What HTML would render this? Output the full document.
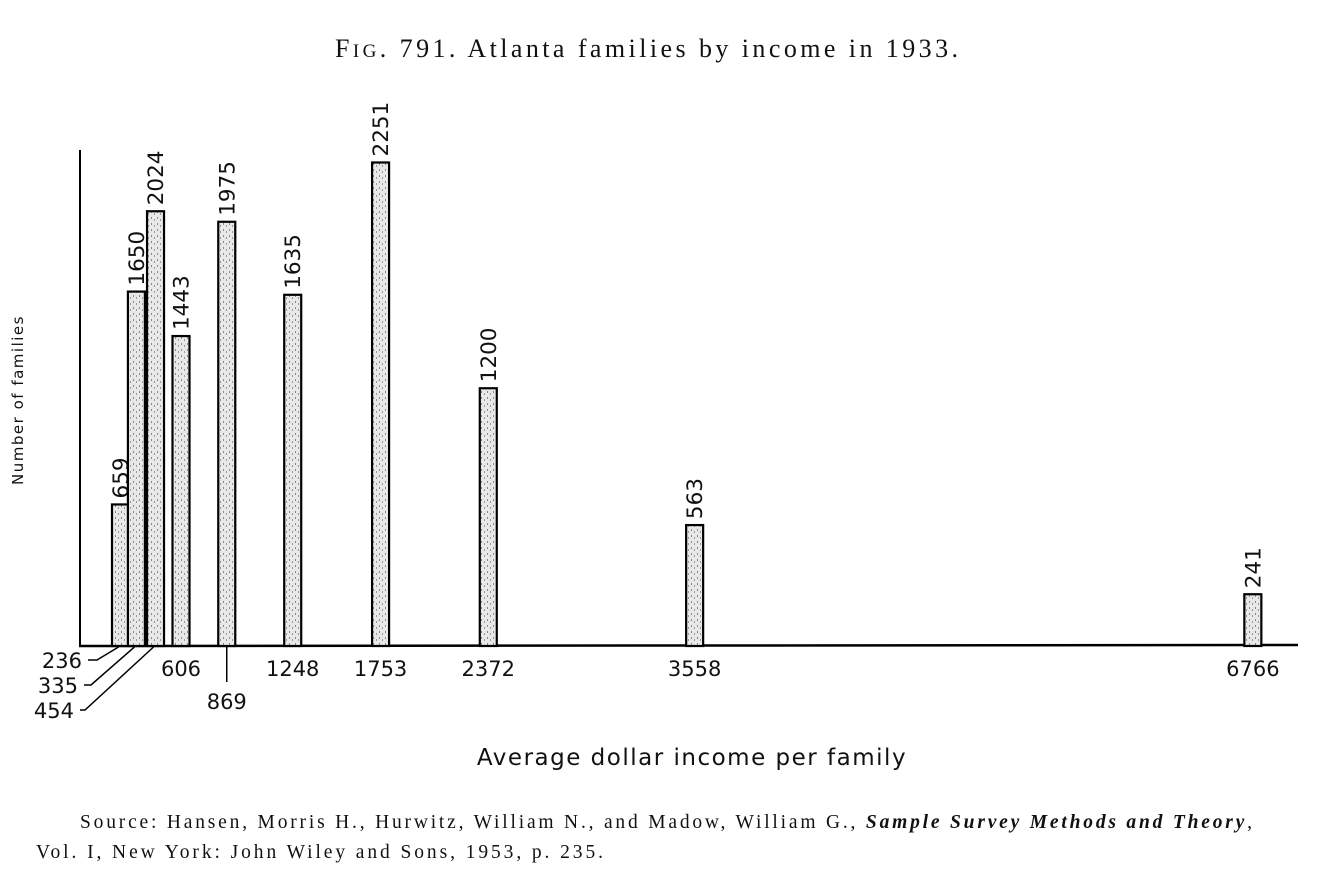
<!DOCTYPE html>
<html><head><meta charset="utf-8"><style>
body{margin:0;background:#fff;width:1332px;height:886px;overflow:hidden}
svg text{font-family:"DejaVu Sans","Liberation Sans",sans-serif;fill:#111}
</style></head><body>
<svg id="chart" width="1332" height="886">
<defs>
<pattern id="stip" width="6" height="6" patternUnits="userSpaceOnUse">
<rect width="6" height="6" fill="#e8e8e8"/>
<rect x="1" y="1" width="1" height="2" fill="#888"/>
<rect x="4" y="3" width="1" height="2" fill="#999"/>
</pattern>
</defs>
<text x="335" y="57" font-size="26" textLength="623" lengthAdjust="spacing" style="font-family:'Liberation Serif',serif">F<tspan font-size="19">IG</tspan>. 791. Atlanta families by income in 1933.</text>
<line x1="80" y1="150" x2="80" y2="646" stroke="#000" stroke-width="2"/>
<line x1="79" y1="646" x2="1298" y2="645" stroke="#000" stroke-width="2.5"/>
<text transform="translate(23,400) rotate(-90)" text-anchor="middle" font-size="15" letter-spacing="1.5">Number of families</text>
<text x="692" y="765" text-anchor="middle" font-size="23" letter-spacing="1.5">Average dollar income per family</text>
<text x="80" y="828" font-size="19.5" textLength="1172" lengthAdjust="spacing" style="font-family:'Liberation Serif',serif">Source: Hansen, Morris H., Hurwitz, William N., and Madow, William G., <tspan font-style="italic" font-weight="bold">Sample Survey Methods and Theory</tspan>,</text>
<text x="36" y="858" font-size="19.5" textLength="567" lengthAdjust="spacing" style="font-family:'Liberation Serif',serif">Vol. I, New York: John Wiley and Sons, 1953, p. 235.</text>
<g id="bars"></g>
</svg>
<script>
const incomes=[236,335,454,606,869,1248,1753,2372,3558,6766];
const families=[659,1650,2024,1443,1975,1635,2251,1200,563,241];
const incomeLabels=["236","335","454","606","869","1248","1753","2372","3558","6766"];
const xs=v=>v<600?120.5+(v-236)*0.1607:181+(v-606)*0.174;
const ys=v=>646-v*0.2148;
const g=document.getElementById('bars');
const NS='http://www.w3.org/2000/svg';
function mk(t,a){const e=document.createElementNS(NS,t);for(const k in a)e.setAttribute(k,a[k]);g.appendChild(e);return e;}
incomes.forEach((v,i)=>{
  const cx=xs(v);
  const w=17,top=ys(families[i]);
  const r=mk('rect',{x:cx-w/2,y:top,width:w,height:646-top,fill:'url(#stip)',stroke:'#000','stroke-width':2.2});
  
  
  const t=mk('text',{transform:`translate(${cx+7.5},${top-6}) rotate(-90)`,'font-size':21.5});
  t.textContent=families[i];
  
  
  let lab;
  if(i<3){
    const ly=[663,688,713][i];
    const ln=mk('polyline',{points:`${cx-2},647 ${97-i*6},${ly-3} ${88-i*4},${ly-3}`,fill:'none',stroke:'#000','stroke-width':1.5});
    
    
    lab=mk('text',{x:82-i*4,y:ly+5,'text-anchor':'end','font-size':21});
  }else if(i===4){
    const ln=mk('line',{x1:cx,y1:647,x2:cx,y2:682,stroke:'#000','stroke-width':1.5});
    
    
    lab=mk('text',{x:cx,y:709,'text-anchor':'middle','font-size':21});
  }else{
    lab=mk('text',{x:cx,y:676,'text-anchor':'middle','font-size':21});
  }
  lab.textContent=incomeLabels[i];
  
  
});
</script>
</body></html>
